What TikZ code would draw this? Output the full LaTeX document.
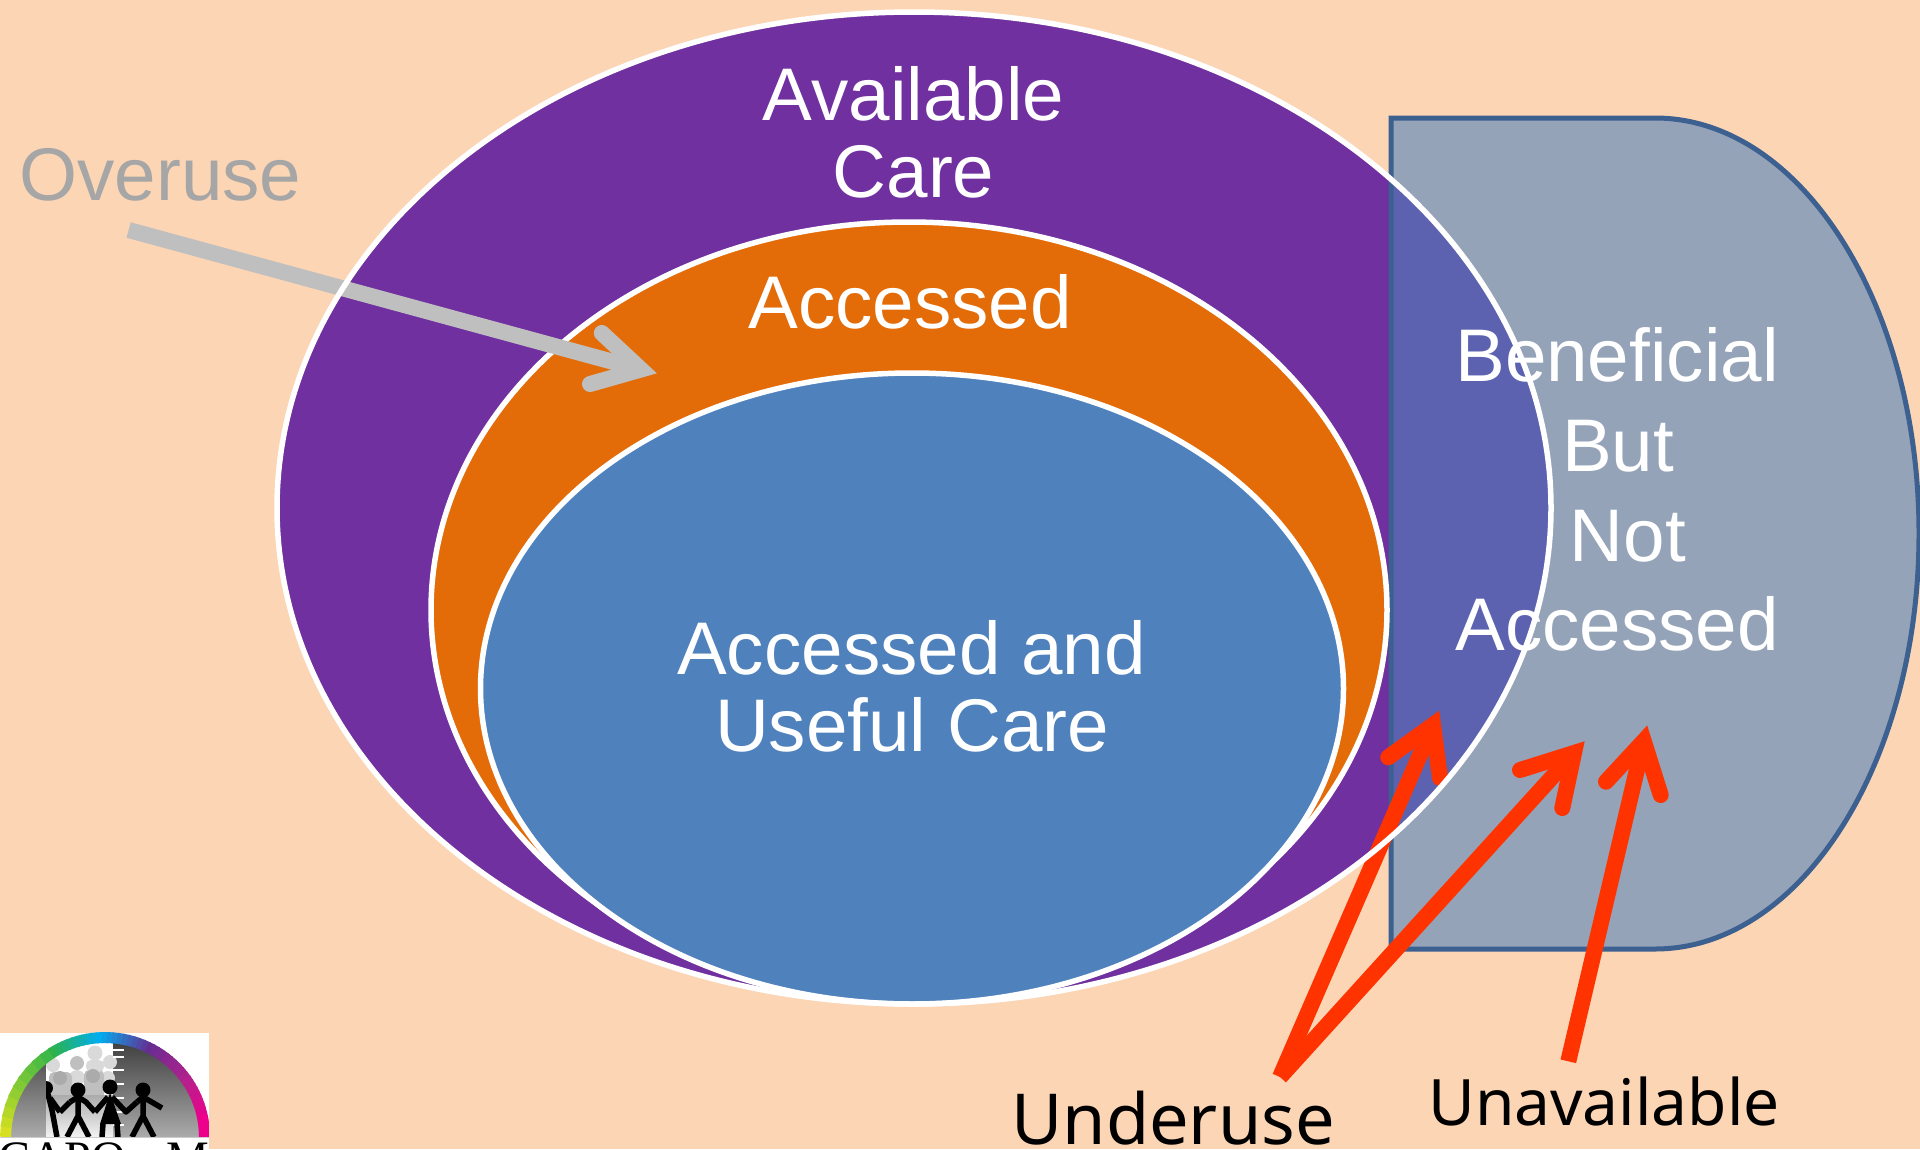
\documentclass[tikz,border=0pt]{standalone}
\usepackage{fontspec}
\setmainfont{Liberation Sans}
\newfontfamily\labelfont{Noto Sans}
\newfontfamily\logofont{Liberation Serif}
\definecolor{bgc}{HTML}{FCD5B5}
\definecolor{purp}{HTML}{7030A0}
\definecolor{oran}{HTML}{E36C09}
\definecolor{bluec}{HTML}{4F81BD}
\definecolor{dfill}{HTML}{95A3B9}
\definecolor{dline}{HTML}{3C6090}
\definecolor{overlap}{HTML}{5C62B0}
\definecolor{redc}{HTML}{FF3300}
\definecolor{greyc}{HTML}{BFBFBF}
\definecolor{overc}{HTML}{A6A6A6}
\definecolor{ra}{HTML}{D6E021}
\definecolor{rb}{HTML}{2DB34A}
\definecolor{rc}{HTML}{00AEEF}
\definecolor{rd}{HTML}{662D91}
\definecolor{re}{HTML}{B5218C}
\definecolor{rf}{HTML}{EC008C}
\tikzset{
  whiteline/.style={draw=white,line width=5.5pt},
  txt/.style={text=white,anchor=base,inner sep=0pt,font=\fontsize{74.6}{75}\selectfont},
  shaftline/.style={line width=16pt,line cap=butt},
  barbline/.style={line width=16pt,line cap=round,line join=miter,miter limit=10},
  person/.style={draw=black,line width=5.5pt,line cap=butt,line join=round},
}
\begin{document}
\begin{tikzpicture}[x=1pt,y=-1pt]
\useasboundingbox (0,0) rectangle (1920,1149);
\clip (0,0) rectangle (1920,1149);
\fill[bgc] (0,0) rectangle (1920,1149);
% D shape and outer ellipse fills
\def\dshape{(1391,118) -- (1655,118) arc[start angle=-90,end angle=90,x radius=264,y radius=415.5] -- (1391,949) -- cycle}
\fill[dfill] \dshape;
\fill[purp] (914,508) ellipse[x radius=637,y radius=496];
\begin{scope}
  \clip \dshape;
  \fill[overlap] (914,508) ellipse[x radius=637,y radius=496];
\end{scope}
\draw[dline,line width=5pt,line join=miter] \dshape;
% nested ellipses
\filldraw[fill=oran,whiteline] (909,610) ellipse[x radius=478,y radius=388];
\filldraw[fill=bluec,whiteline] (912,688.5) ellipse[x radius=431.5,y radius=315.5];
% arrows
\coordinate (gt) at (128.6,230);
\coordinate (ga) at (641,369.5);
\coordinate (gb1) at (601.8,333);
\coordinate (gb2) at (590,384);
\draw[greyc,shaftline] (gt) -- (ga);
\draw[greyc,barbline] (gb1) -- (ga) -- (gb2);
\coordinate (ut) at (1280,1077);
\coordinate (aa) at (1433,725);
\coordinate (ab1) at (1388.3,757.3);
\coordinate (ab2) at (1440,778);
\draw[redc,shaftline] (ut) -- (aa);
\draw[redc,barbline] (ab1) -- (aa) -- (ab2);
\coordinate (ba) at (1574,753);
\coordinate (bb1) at (1520,770);
\coordinate (bb2) at (1562.3,808);
\draw[redc,shaftline] (ut) -- (ba);
\draw[redc,barbline] (bb1) -- (ba) -- (bb2);
\coordinate (ct) at (1568.3,1061.3);
\coordinate (ca) at (1643.7,741);
\coordinate (cb1) at (1606,781.7);
\coordinate (cb2) at (1660.7,795);
\draw[redc,shaftline] (ct) -- (ca);
\draw[redc,barbline] (cb1) -- (ca) -- (cb2);
% outer outline on top
\draw[whiteline] (914,508) ellipse[x radius=637,y radius=496];
% labels
\node[txt] (t1) at (913.5,120) {Available};
\node[txt] (t2) at (913.5,197) {Care};
\node[txt] (t3) at (910,328) {Accessed};
\node[txt] (t4) at (911.5,674) {Accessed and};
\node[txt] (t5) at (912,751) {Useful Care};
\node[txt] (t6) at (1617,381.5) {Beneficial};
\node[txt] (t7) at (1618,471.5) {But};
\node[txt] (t8) at (1628,561.5) {Not};
\node[txt] (t9) at (1617,650.5) {Accessed};
\node[txt,text=overc] (t10) at (160.5,200) {Overuse};
\node[anchor=base,inner sep=0pt,text=black,font=\labelfont\fontsize{70.3}{71}\selectfont] (t11) at (1173,1144) {Underuse};
\node[anchor=base,inner sep=0pt,text=black,font=\labelfont\fontsize{64}{64}\selectfont] (t12) at (1604,1125) {Unavailable};
% logo
\fill[white] (0,1033) rectangle (209,1149);
\begin{scope}
  \clip (105,1137) circle (95) ;
  \clip (0,1033) rectangle (209,1137);
  \shade[top color=black!75,bottom color=black!33] (0,1042) rectangle (209,1137);
  \fill[white] (46,1040) rectangle (113,1137);
  \fill[black!15] (95,1053) circle (7.5);
  \fill[black!15] (110,1062) circle (7);
  \fill[black!15] (53,1065) circle (7);
  \fill[black!25] (77,1063) circle (7);
  \fill[black!15] (77,1078) circle (8);
  \fill[black!15] (108,1078) circle (7);
  \fill[black!25,rounded corners=5pt] (49,1072) -- (72,1072) -- (72,1137) -- (49,1137) -- cycle;
  \fill[black!25,rounded corners=5pt] (84,1070) -- (104,1070) -- (104,1137) -- (84,1137) -- cycle;
  \fill[black!15,rounded corners=5pt] (86,1060) -- (104,1060) -- (104,1072) -- (86,1072) -- cycle;
  \fill[black!33] (60,1078) circle (7);
  \fill[black!33] (93,1076) circle (7);
  \shade[top color=black!33,bottom color=black!5] (46,1095) rectangle (113,1137);
  \foreach \ty in {1050,1057,1070,1084,1098,1112,1125}
    \fill[white] (113,\ty-1) rectangle (124,\ty+1);
  \begin{scope}
    \clip (46,1040) rectangle (209,1137);
    \fill[black] (46,1088) circle (7);
    \draw[person] (48,1094) -- (52,1110) -- (57,1137);
    \draw[person] (50,1098) -- (60,1112);
  \end{scope}
  \draw[person] (60,1112) -- (70,1102);
  \fill[black] (78,1090) circle (7.5);
  \draw[person] (78,1095) -- (78,1116) -- (67,1137);
  \draw[person] (78,1116) -- (89,1137);
  \draw[person] (70,1102) -- (78,1097) -- (86,1102) -- (95,1112);
  \fill[black] (110,1087) circle (7.5);
  \fill[black] (110,1093) -- (100,1124) -- (121,1124) -- cycle;
  \draw[person] (103,1124) -- (102,1137);
  \draw[person] (117,1124) -- (118,1137);
  \draw[person] (95,1112) -- (108,1097);
  \draw[person] (112,1097) -- (126,1112) -- (137,1102);
  \fill[black] (143,1090) circle (7.5);
  \draw[person] (143,1095) -- (143,1116) -- (132,1137);
  \draw[person] (143,1116) -- (154,1137);
  \draw[person] (137,1102) -- (143,1097) -- (162,1108);
\end{scope}
\foreach \aS/\aE/\cA/\cB in {180/123/ra/rb,123/95/rb/rc,95/65/rc/rd,65/36/rd/re,36/12/re/rf,12/0/rf/rf}{
  \foreach \k in {0,...,9}{
    \pgfmathsetmacro{\sa}{\aS+(\aE-\aS)*\k/10}
    \pgfmathsetmacro{\sb}{\aS+(\aE-\aS)*(\k+1.3)/10}
    \pgfmathsetmacro{\pc}{int(100-\k*10)}
    \draw[\cA!\pc!\cB,line width=11pt,line cap=butt]
      ({105+99.5*cos(\sa)},{1137-99.5*sin(\sa)}) -- ({105+99.5*cos(\sb)},{1137-99.5*sin(\sb)});
  }
}
\draw[black!20,line width=1.5pt] (0,1137.5) -- (209,1137.5);
\node[anchor=base west,inner sep=0pt,text=black,font=\logofont\fontsize{48}{48}\selectfont] (l1) at (-2,1174) {CAPO};
\node[anchor=base east,inner sep=0pt,text=black,font=\logofont\fontsize{48}{48}\selectfont] (l2) at (209,1174) {M};
\fill[bgc] (209,1033) rectangle (215,1149);
\end{tikzpicture}
\end{document}
